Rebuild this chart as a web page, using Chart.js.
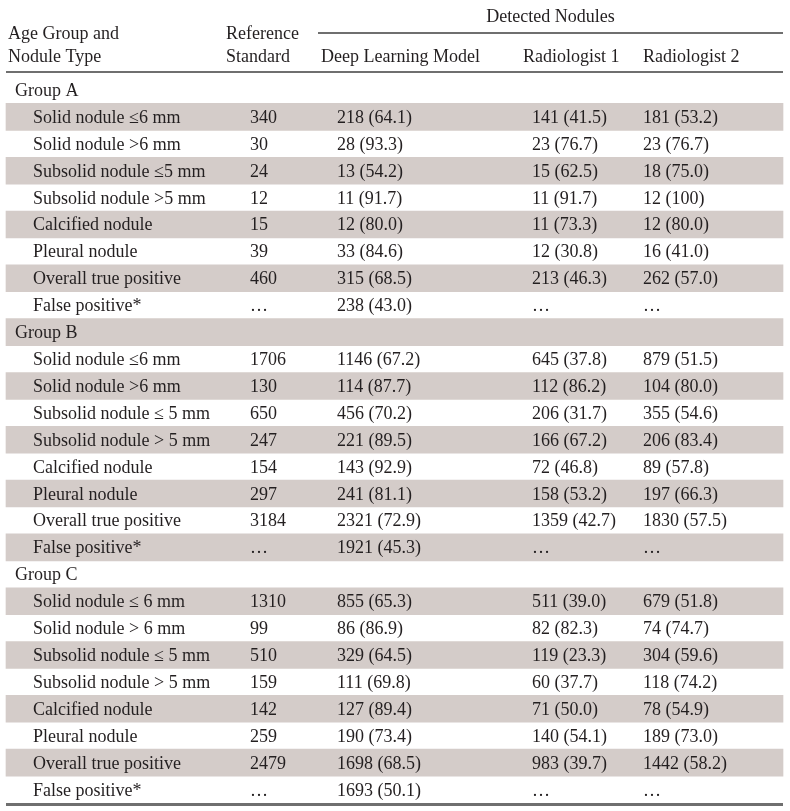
<!DOCTYPE html>
<html>
<head>
<meta charset="utf-8">
<script src="https://cdn.jsdelivr.net/npm/chart.js@4/dist/chart.umd.min.js"></script>
<style>
  html, body { margin: 0; padding: 0; background: #fff; }
  #wrap { position: relative; width: 790px; height: 811px; }
</style>
</head>
<body>
<div id="wrap"><canvas id="tbl"></canvas></div>
<script>
// Table content, one group per inner array
const groupNames = ['Group A', 'Group B', 'Group C'];
const noduleTypes = [
    ['Solid nodule \u22646 mm', 'Solid nodule >6 mm', 'Subsolid nodule \u22645 mm', 'Subsolid nodule >5 mm',
     'Calcified nodule', 'Pleural nodule', 'Overall true positive', 'False positive*'],
    ['Solid nodule \u22646 mm', 'Solid nodule >6 mm', 'Subsolid nodule \u2264 5 mm', 'Subsolid nodule > 5 mm',
     'Calcified nodule', 'Pleural nodule', 'Overall true positive', 'False positive*'],
    ['Solid nodule \u2264 6 mm', 'Solid nodule > 6 mm', 'Subsolid nodule \u2264 5 mm', 'Subsolid nodule > 5 mm',
     'Calcified nodule', 'Pleural nodule', 'Overall true positive', 'False positive*']
];
const referenceStd = [
    [340, 30, 24, 12, 15, 39, 460, null],
    [1706, 130, 650, 247, 154, 297, 3184, null],
    [1310, 99, 510, 159, 142, 259, 2479, null]
];
const dlCount = [
    [218, 28, 13, 11, 12, 33, 315, 238],
    [1146, 114, 456, 221, 143, 241, 2321, 1921],
    [855, 86, 329, 111, 127, 190, 1698, 1693]
];
const dlPct = [
    [64.1, 93.3, 54.2, 91.7, 80.0, 84.6, 68.5, 43.0],
    [67.2, 87.7, 70.2, 89.5, 92.9, 81.1, 72.9, 45.3],
    [65.3, 86.9, 64.5, 69.8, 89.4, 73.4, 68.5, 50.1]
];
const rad1Count = [
    [141, 23, 15, 11, 11, 12, 213, null],
    [645, 112, 206, 166, 72, 158, 1359, null],
    [511, 82, 119, 60, 71, 140, 983, null]
];
const rad1Pct = [
    [41.5, 76.7, 62.5, 91.7, 73.3, 30.8, 46.3, null],
    [37.8, 86.2, 31.7, 67.2, 46.8, 53.2, 42.7, null],
    [39.0, 82.3, 23.3, 37.7, 50.0, 54.1, 39.7, null]
];
const rad2Count = [
    [181, 23, 18, 12, 12, 16, 262, null],
    [879, 104, 355, 206, 89, 197, 1830, null],
    [679, 74, 304, 118, 78, 189, 1442, null]
];
const rad2Pct = [
    [53.2, 76.7, 75.0, 100, 80.0, 41.0, 57.0, null],
    [51.5, 80.0, 54.6, 83.4, 57.8, 66.3, 57.5, null],
    [51.8, 74.7, 59.6, 74.2, 54.9, 73.0, 58.2, null]
];
const columnHeaders = ['Deep Learning Model', 'Radiologist 1', 'Radiologist 2'];

const FONT = '"Liberation Serif", "DejaVu Serif", serif';
const TEXT = '#231f20';
const RULE = '#6f6f6f';
const SHADE = '#d4ccc9';

function cell(n, p) {
    if (n == null) return '\u2026';
    if (p == null) return String(n);
    return `${n} (${p === 100 ? '100' : p.toFixed(1)})`;
}

// flatten groups into table rows
const rows = [];
groupNames.forEach((g, gi) => {
    rows.push({ label: g, group: true, cells: ['', '', '', ''] });
    noduleTypes[gi].forEach((t, i) => {
        rows.push({
            label: t, group: false,
            cells: [
                cell(referenceStd[gi][i], null),
                cell(dlCount[gi][i], dlPct[gi][i]),
                cell(rad1Count[gi][i], rad1Pct[gi][i]),
                cell(rad2Count[gi][i], rad2Pct[gi][i])
            ]
        });
    });
});
const rowKeys = rows.map((r, i) => 'r' + i);
// every second row gets the shaded band
const shading = rows.map((r, i) => i % 2 === 1 ? [6, 783] : null);

// x positions (in table units) of the text columns
const colX = { group: 15, item: 33, ref: 250, dl: 337, rad1: 532, rad2: 643 };
const headX = { ref: 226, dl: 321, rad1: 523, rad2: 643 };

const tablePlugin = {
    id: 'tableText',
    afterDatasetsDraw(chart) {
        const { ctx, chartArea, scales: { x, y } } = chart;
        ctx.save();
        ctx.fillStyle = TEXT;
        ctx.textBaseline = 'alphabetic';
        ctx.textAlign = 'left';
        ctx.font = '18px ' + FONT;

        // header block
        ctx.textAlign = 'center';
        const dnLeft = x.getPixelForValue(318), dnRight = x.getPixelForValue(783);
        ctx.fillText('Detected Nodules', (dnLeft + dnRight) / 2, 22);
        ctx.textAlign = 'left';
        ctx.fillText('Age Group and', x.getPixelForValue(8), 39);
        ctx.fillText('Nodule Type', x.getPixelForValue(8), 62);
        ctx.fillText('Reference', x.getPixelForValue(headX.ref), 39);
        ctx.fillText('Standard', x.getPixelForValue(headX.ref), 62);
        ctx.fillText(columnHeaders[0], x.getPixelForValue(headX.dl), 62);
        ctx.fillText(columnHeaders[1], x.getPixelForValue(headX.rad1), 62);
        ctx.fillText(columnHeaders[2], x.getPixelForValue(headX.rad2), 62);

        // rules
        ctx.strokeStyle = RULE;
        ctx.lineWidth = 2;
        ctx.beginPath();
        ctx.moveTo(dnLeft, 33); ctx.lineTo(dnRight, 33);
        ctx.moveTo(x.getPixelForValue(6), chartArea.top - 4.5); ctx.lineTo(dnRight, chartArea.top - 4.5);
        ctx.stroke();
        ctx.lineWidth = 3;
        ctx.beginPath();
        ctx.moveTo(x.getPixelForValue(6), chartArea.bottom + 1.5); ctx.lineTo(dnRight, chartArea.bottom + 1.5);
        ctx.stroke();

        // body cells
        rows.forEach((r, i) => {
            const yy = y.getPixelForValue(i) + 6;
            ctx.fillText(r.label, x.getPixelForValue(r.group ? colX.group : colX.item), yy);
            ctx.fillText(r.cells[0], x.getPixelForValue(colX.ref), yy);
            ctx.fillText(r.cells[1], x.getPixelForValue(colX.dl), yy);
            ctx.fillText(r.cells[2], x.getPixelForValue(colX.rad1), yy);
            ctx.fillText(r.cells[3], x.getPixelForValue(colX.rad2), yy);
        });
        ctx.restore();
    }
};

new Chart(document.getElementById('tbl'), {
    type: 'bar',
    data: {
        labels: rowKeys,
        datasets: [{
            data: shading,
            backgroundColor: SHADE,
            borderWidth: 0,
            barPercentage: 1,
            categoryPercentage: 1
        }]
    },
    options: {
        indexAxis: 'y',
        responsive: true,
        maintainAspectRatio: false,
        animation: false,
        layout: { padding: { top: 76.5, bottom: 8, left: 0, right: 0 } },
        scales: {
            x: { type: 'linear', min: 0, max: 790, display: false },
            y: { type: 'category', display: false, offset: true }
        },
        plugins: { legend: { display: false }, tooltip: { enabled: false } }
    },
    plugins: [tablePlugin]
});
</script>
</body>
</html>
